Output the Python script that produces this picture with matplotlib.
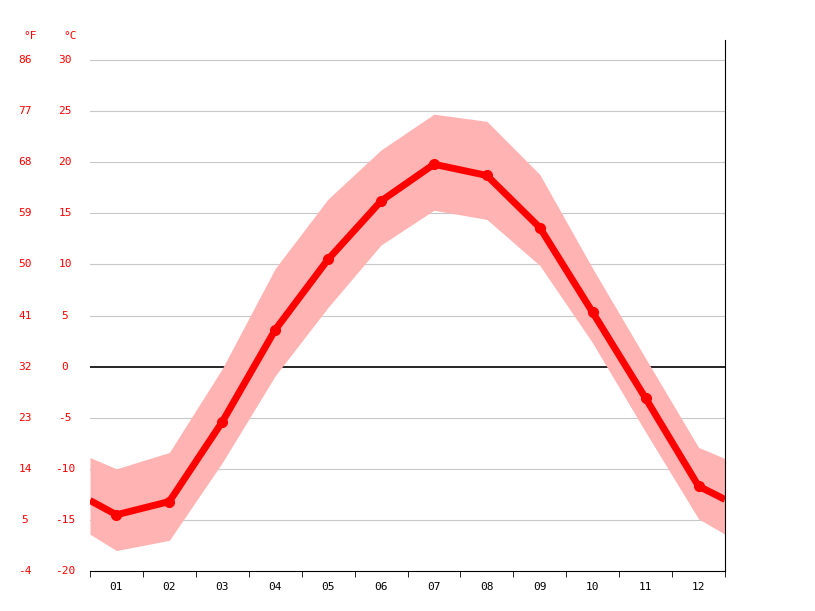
import numpy as np
import matplotlib.pyplot as plt

months = ["01", "02", "03", "04", "05", "06", "07", "08", "09", "10", "11", "12"]
# x positions include half-month edges at 0.5 and 12.5
xs = [0.5, 1, 2, 3, 4, 5, 6, 7, 8, 9, 10, 11, 12, 12.5]
t_mean = [-13.1, -14.5, -13.2, -5.4, 3.6, 10.5, 16.2, 19.8, 18.7, 13.6, 5.3, -3.1, -11.7, -13.0]
t_max = [-8.9, -10.0, -8.4, -0.2, 9.6, 16.4, 21.2, 24.7, 24.0, 18.8, 9.6, 0.8, -7.9, -9.0]
t_min = [-16.4, -18.0, -17.0, -9.4, -0.9, 5.8, 11.9, 15.3, 14.4, 9.9, 2.3, -6.4, -14.9, -16.4]
c_ticks = [30, 25, 20, 15, 10, 5, 0, -5, -10, -15, -20]
f_ticks = [86, 77, 68, 59, 50, 41, 32, 23, 14, 5, -4]

fig = plt.figure(figsize=(8.15, 6.11), dpi=100)
ax = fig.add_axes([90/815, 1-571/611, 635/815, 531/611])
ax.set_xlim(0.5, 12.5)
ax.set_ylim(-20, 30 + 20/10.22)

for c in c_ticks:
    if c != 0 and c != -20:
        ax.axhline(c, color="#c8c8c8", lw=0.8, zorder=0)
ax.axhline(0, color="black", lw=1.2, zorder=1)

ax.fill_between(xs, t_min, t_max, color="#ffb3b3", lw=0, zorder=2)
ax.plot(xs, t_mean, color="#ff0000", lw=5, zorder=3, solid_capstyle="butt")
ax.plot(xs[1:-1], t_mean[1:-1], "o", color="#ff0000", ms=7, zorder=4)

for s in ["top", "left"]:
    ax.spines[s].set_visible(False)
ax.spines["right"].set_color("black")
ax.spines["bottom"].set_color("black")

ax.set_xticks(np.arange(1, 13))
ax.set_xticklabels(months, fontsize=8, family="DejaVu Sans Mono")
ax.set_xticks(np.arange(0.5, 13, 1), minor=True)
ax.tick_params(axis="x", which="major", length=0, pad=8)
ax.tick_params(axis="x", which="minor", length=4, color="black")
ax.set_yticks([])

trans = ax.get_yaxis_transform()
for c, f in zip(c_ticks, f_ticks):
    ax.text(-25/635, c, str(c), transform=trans, ha="center", va="center",
            color="#ff0000", fontsize=8, family="DejaVu Sans Mono")
    ax.text(-65/635, c, str(f), transform=trans, ha="center", va="center",
            color="#ff0000", fontsize=8, family="DejaVu Sans Mono")
fig.text(30/815, 1-36/611, "°F", ha="center", va="center", color="#ff0000", fontsize=8, family="DejaVu Sans Mono")
fig.text(70/815, 1-36/611, "°C", ha="center", va="center", color="#ff0000", fontsize=8, family="DejaVu Sans Mono")

fig.savefig("out.png", dpi=100)
